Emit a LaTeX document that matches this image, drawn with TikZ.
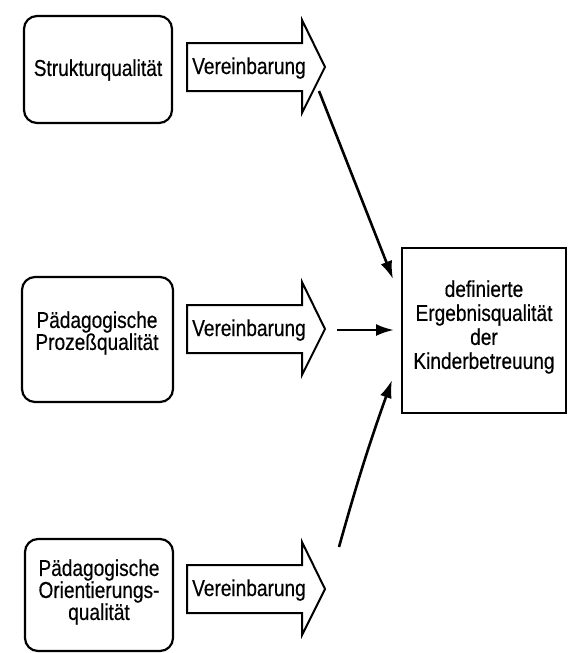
\documentclass[tikz,border=0pt]{standalone}
\usepackage{fontspec}
\setmainfont[FakeStretch=0.83,FakeBold=0.4]{Liberation Sans}
\usetikzlibrary{arrows.meta}
\tikzset{
  every node/.style={font=\fontsize{23}{22}\selectfont},
  srcbox/.style={draw, line width=2.2pt, rounded corners=13pt},
  goalbox/.style={draw, line width=2.6pt},
  arrowshape/.style={draw, line width=2pt, line join=miter},
  vlabel/.style={anchor=base west, inner sep=0pt},
  blabel/.style={align=center, inner sep=0pt},
  glabel/.style={align=center, inner sep=0pt, font=\fontsize{23}{24}\selectfont},
  conn/.style={line width=2.6pt, -{Latex[length=18pt,width=12pt]}},
}
\newcommand\vereinbarung[2]{%
  \draw[arrowshape] (187,#2-24) -- (302,#2-24) -- (302,#2-47) -- (325,#2)
     -- (302,#2+46) -- (302,#2+24) -- (187,#2+24) -- cycle;
  \node[vlabel] (#1) at (192,#2+7) {Vereinbarung};}
\begin{document}
\begin{tikzpicture}[x=1pt,y=-1pt]
\useasboundingbox (0,0) rectangle (570,653);
% source boxes
\draw[srcbox] (24,16) rectangle (172,123);
\node[blabel] (s1) at (98,70) {Strukturqualit\"at};
\draw[srcbox] (22,277) rectangle (173,402);
\node[blabel] (s2) at (97,333) {P\"adagogische\\Proze\ss qualit\"at};
\draw[srcbox] (25,539) rectangle (173,651);
\node[blabel] (s3) at (99,592) {P\"adagogische\\Orientierungs-\\qualit\"at};
% arrows
\vereinbarung{v1}{67}
\vereinbarung{v2}{329}
\vereinbarung{v3}{589}
% goal box
\draw[goalbox] (402,248) rectangle (566,413);
\node[glabel] (g) at (484,327) {definierte\\Ergebnisqualit\"at\\der\\Kinderbetreuung};
% connectors
\coordinate (c1s) at (319,91);
\coordinate (c1e) at (393,279);
\coordinate (c2s) at (337,330);
\coordinate (c2e) at (394,330);
\coordinate (c3s) at (339,547);
\coordinate (c3e) at (392,380);
\draw[conn] (c1s) -- (c1e);
\draw[conn] (c2s) -- (c2e);
\draw[conn] (c3s) to[bend left=2] (c3e);
\end{tikzpicture}
\end{document}
